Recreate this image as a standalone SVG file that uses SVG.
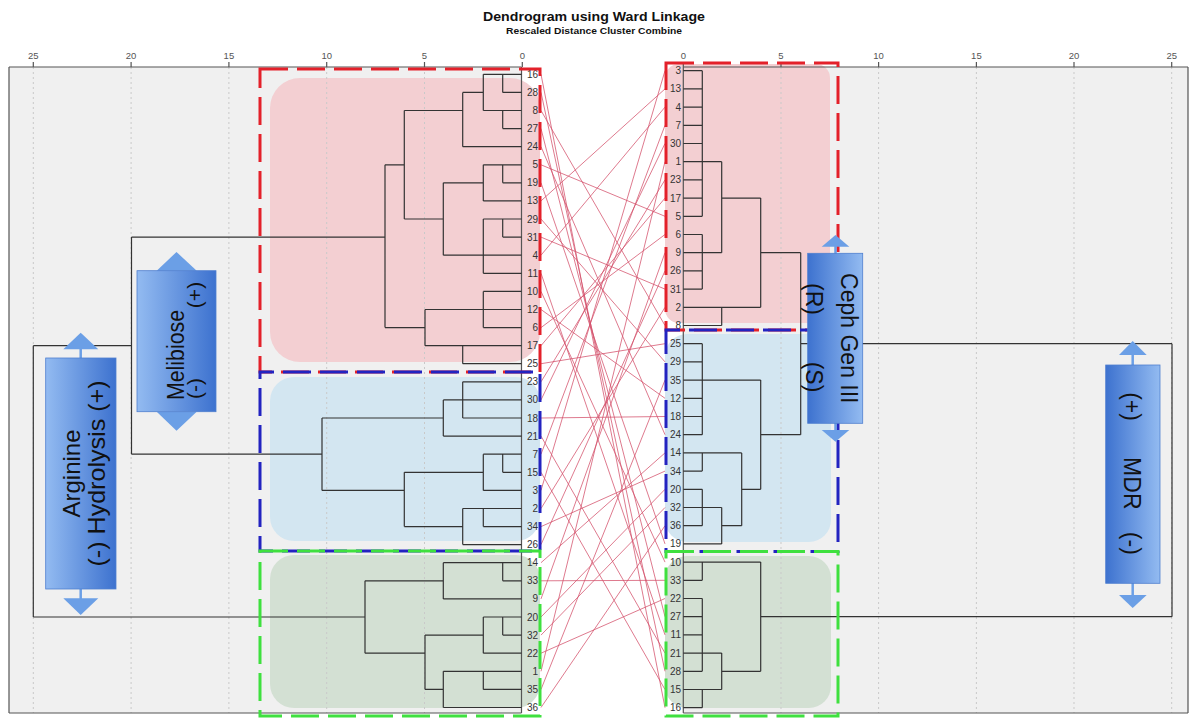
<svg xmlns="http://www.w3.org/2000/svg" width="1190" height="720" viewBox="0 0 1190 720">
<defs>
<linearGradient id="gL" x1="0" y1="0" x2="1" y2="0"><stop offset="0" stop-color="#93bbf1"/><stop offset="1" stop-color="#3d72cf"/></linearGradient>
<linearGradient id="gR" x1="0" y1="0" x2="1" y2="0"><stop offset="0" stop-color="#3d72cf"/><stop offset="1" stop-color="#93bbf1"/></linearGradient>
<style>
.plot{fill:#f0f0f0}
.grid{stroke:#c9c9c9;stroke-width:1;stroke-dasharray:2 3;fill:none}
.ax{stroke:#555;stroke-width:1.2;fill:none}
.tick{font-family:"Liberation Sans",Arial,sans-serif;font-size:9.5px;fill:#555;text-anchor:middle}
.den{stroke:#333;stroke-width:1.2;fill:none}
.cross{stroke:#d4506a;stroke-width:0.9;stroke-opacity:0.85;fill:none}
.lab{font-family:"Liberation Sans",Arial,sans-serif;font-size:10px;fill:#333;text-anchor:end}
.dash{fill:none;stroke-width:3;stroke-dasharray:28 9}
.box{stroke:#4f7fcf;stroke-width:0.8}
.arr{fill:#6b9fe6}
.stem{stroke:#6b9fe6;stroke-width:2.5}
.bt{font-family:"Liberation Sans",Arial,sans-serif;fill:#111;text-anchor:middle}
.title{font-family:"Liberation Sans",Arial,sans-serif;font-weight:bold;fill:#111;text-anchor:middle}
</style>
</defs>
<rect width="1190" height="720" fill="#ffffff"/>
<g id="title">
<text class="title" x="594" y="21" font-size="13.5" textLength="222" lengthAdjust="spacingAndGlyphs">Dendrogram using Ward Linkage</text>
<text class="title" x="594" y="34" font-size="9.5" textLength="176" lengthAdjust="spacingAndGlyphs">Rescaled Distance Cluster Combine</text>
</g>
<g id="plot-areas">
<rect class="plot" x="9" y="67" width="512.5" height="646"/>
<rect class="plot" x="683.3" y="67" width="504.7" height="646"/>
</g>
<g id="cluster-fills">
<rect x="270" y="78" width="270" height="284" rx="30" fill="#f3cfd2"/>
<rect x="270" y="377" width="270" height="164" rx="24" fill="#d3e6f1"/>
<rect x="270" y="555" width="270" height="153" rx="24" fill="#d3e0d3"/>
<rect x="665" y="64" width="165" height="259" rx="14" fill="#f3cfd2"/>
<rect x="665" y="334" width="166" height="208" rx="22" fill="#d3e6f1"/>
<rect x="665" y="556" width="166" height="152" rx="22" fill="#d3e0d3"/>
</g>
<g id="grid">
<path class="grid" d="M33.3 67V713M131.1 67V713M228.9 67V713M326.7 67V713M424.5 67V713M781 67V713M878.6 67V713M976.4 67V713M1074 67V713M1171.7 67V713"/>
</g>
<g id="axes">
<path class="ax" d="M9 67H521.5M9 67V713M9 713H521.5M521.5 67V713M683.3 67H1188M1188 67V713M683.3 713H1188M683.3 67V713"/>
<path class="ax" d="M33.3 62V67M131.1 62V67M228.9 62V67M326.7 62V67M424.5 62V67M522.3 62V67M683.3 62V67M781 62V67M878.6 62V67M976.4 62V67M1074 62V67M1171.7 62V67"/>
<text class="tick" x="33.3" y="59">25</text>
<text class="tick" x="131.1" y="59">20</text>
<text class="tick" x="228.9" y="59">15</text>
<text class="tick" x="326.7" y="59">10</text>
<text class="tick" x="424.5" y="59">5</text>
<text class="tick" x="522.3" y="59">0</text>
<text class="tick" x="683.3" y="59">0</text>
<text class="tick" x="781" y="59">5</text>
<text class="tick" x="878.6" y="59">10</text>
<text class="tick" x="976.4" y="59">15</text>
<text class="tick" x="1074" y="59">20</text>
<text class="tick" x="1171.7" y="59">25</text>
</g>
<g id="connectors">
<g id="tanglegram-links">
<path class="cross" d="M541 74.3L665 707.7M541 92.4L665 671.3M541 110.5L665 325.5M541 128.6L665 616.7M541 146.7L665 434.7M541 164.8L665 216.3M541 182.8L665 543.9M541 200.9L665 88.9M541 219.0L665 361.9M541 237.1L665 289.1M541 255.2L665 107.1M541 273.3L665 634.9M541 291.4L665 562.1M541 309.5L665 398.3M541 327.6L665 234.5M541 345.7L665 198.1M541 363.7L665 343.7M541 381.8L665 179.9M541 399.9L665 143.5M541 418.0L665 416.5M541 436.1L665 653.1M541 454.2L665 125.3M541 472.3L665 689.5M541 490.4L665 70.7M541 508.5L665 307.3M541 526.6L665 471.1M541 544.6L665 270.9M541 562.7L665 452.9M541 580.8L665 580.3M541 598.9L665 252.7M541 617.0L665 489.3M541 635.1L665 507.5M541 653.2L665 598.5M541 671.3L665 161.7M541 689.4L665 380.1M541 707.5L665 525.7"/>
</g>
<g id="left-dendrogram">
<path class="den" d="M483.3 74.3H521.5M502.7 74.3V92.4M502.7 92.4H521.5M462.7 92.4H483.3M483.3 74.3V110.5M483.3 110.5H521.5M502.7 110.5V128.6M502.7 128.6H521.5M462.7 92.4V146.7M462.7 146.7H521.5M404.3 110.5H462.7M404.3 110.5V219.0M483.3 164.8H521.5M502.7 164.8V182.8M502.7 182.8H521.5M483.3 164.8V200.9M483.3 200.9H521.5M443.3 182.8H483.3M443.3 182.8V255.2M483.3 219.0H521.5M502.7 219.0V237.1M502.7 237.1H521.5M483.3 219.0V273.3M443.3 255.2H521.5M483.3 273.3H521.5M404.3 219.0H443.3M385 164.8H404.3M385 164.8V327.6M483.3 291.4H521.5M483.3 291.4V327.6M425 309.5H521.5M483.3 327.6H521.5M385 327.6H425M425 309.5V345.7M425 345.7H521.5M462.7 345.7V363.7M462.7 363.7H521.5M131.5 237.1H385"/>
<path class="den" d="M462.7 381.8H521.5M462.7 381.8V418.0M443.3 399.9H521.5M443.3 399.9V436.1M462.7 418.0H521.5M322 418.0H443.3M443.3 436.1H521.5M483.3 454.2H521.5M502.7 454.2V472.3M502.7 472.3H521.5M404.3 472.3H483.3M483.3 454.2V490.4M483.3 490.4H521.5M322 490.4H404.3M404.3 472.3V526.6M462.7 508.5H521.5M483.3 508.5V526.6M483.3 526.6H521.5M404.3 526.6H462.7M462.7 508.5V544.6M462.7 544.6H521.5M322 418.0V490.4M131.5 454.2H322M131.5 237.1V454.2"/>
<path class="den" d="M443.3 562.7H521.5M502.7 562.7V580.8M502.7 580.8H521.5M365 580.8H443.3M443.3 562.7V598.9M443.3 598.9H521.5M483.3 617.0H521.5M502.7 617.0V635.1M502.7 635.1H521.5M425 635.1H483.3M483.3 617.0V653.2M483.3 653.2H521.5M365 653.2H425M425 635.1V689.4M443.3 671.3H521.5M483.3 671.3V689.4M483.3 689.4H521.5M425 689.4H443.3M443.3 671.3V707.5M443.3 707.5H521.5M365 580.8V653.2"/>
<path class="den" d="M33.3 345.7H131.5M33.3 345.7V617.0M33.3 617.0H365"/>
</g>
<g id="right-dendrogram">
<path class="den" d="M683.3 70.7H702.3M683.3 88.9H702.3M683.3 107.1H702.3M683.3 125.3H702.3M683.3 143.5H702.3M683.3 161.7H702.3M683.3 179.9H702.3M683.3 198.1H702.3M683.3 216.3H702.3M702.3 70.7V216.3M702.3 161.7H721.7M721.7 161.7V252.7M683.3 234.5H702.3M683.3 252.7H702.3M683.3 270.9H702.3M683.3 289.1H702.3M702.3 234.5V289.1M702.3 252.7H721.7M721.7 198.1H760.7M760.7 198.1V307.3M683.3 307.3H760.7M721.7 307.3V325.5M683.3 325.5H721.7M760.7 252.7H800.7M800.7 252.7V434.7M800.7 343.7H1172"/>
<path class="den" d="M683.3 343.7H702.3M683.3 361.9H702.3M683.3 380.1H702.3M683.3 398.3H702.3M683.3 416.5H702.3M683.3 434.7H702.3M702.3 343.7V434.7M702.3 380.1H760.7M760.7 380.1V489.3M683.3 452.9H741.7M702.3 452.9V471.1M683.3 471.1H702.3M683.3 489.3H702.3M683.3 507.5H702.3M683.3 525.7H702.3M702.3 489.3V525.7M702.3 507.5H721.7M721.7 507.5V543.9M683.3 543.9H721.7M741.7 452.9V525.7M721.7 525.7H741.7M741.7 489.3H760.7M760.7 434.7H800.7"/>
<path class="den" d="M683.3 562.1H760.7M702.3 562.1V580.3M683.3 580.3H702.3M683.3 598.5H702.3M683.3 616.7H702.3M683.3 634.9H702.3M683.3 653.1H702.3M683.3 671.3H702.3M702.3 598.5V671.3M702.3 653.1H721.7M721.7 653.1V689.5M683.3 689.5H721.7M702.3 689.5V707.7M683.3 707.7H702.3M721.7 671.3H760.7M760.7 562.1V671.3M760.7 616.7H1172M1172 343.7V616.7"/>
</g>
</g>
<g id="left-leaves">
<text class="lab" x="538" y="77.8">16</text>
<text class="lab" x="538" y="95.9">28</text>
<text class="lab" x="538" y="114.0">8</text>
<text class="lab" x="538" y="132.1">27</text>
<text class="lab" x="538" y="150.2">24</text>
<text class="lab" x="538" y="168.3">5</text>
<text class="lab" x="538" y="186.3">19</text>
<text class="lab" x="538" y="204.4">13</text>
<text class="lab" x="538" y="222.5">29</text>
<text class="lab" x="538" y="240.6">31</text>
<text class="lab" x="538" y="258.7">4</text>
<text class="lab" x="538" y="276.8">11</text>
<text class="lab" x="538" y="294.9">10</text>
<text class="lab" x="538" y="313.0">12</text>
<text class="lab" x="538" y="331.1">6</text>
<text class="lab" x="538" y="349.2">17</text>
<text class="lab" x="538" y="367.2">25</text>
<text class="lab" x="538" y="385.3">23</text>
<text class="lab" x="538" y="403.4">30</text>
<text class="lab" x="538" y="421.5">18</text>
<text class="lab" x="538" y="439.6">21</text>
<text class="lab" x="538" y="457.7">7</text>
<text class="lab" x="538" y="475.8">15</text>
<text class="lab" x="538" y="493.9">3</text>
<text class="lab" x="538" y="512.0">2</text>
<text class="lab" x="538" y="530.1">34</text>
<text class="lab" x="538" y="548.1">26</text>
<text class="lab" x="538" y="566.2">14</text>
<text class="lab" x="538" y="584.3">33</text>
<text class="lab" x="538" y="602.4">9</text>
<text class="lab" x="538" y="620.5">20</text>
<text class="lab" x="538" y="638.6">32</text>
<text class="lab" x="538" y="656.7">22</text>
<text class="lab" x="538" y="674.8">1</text>
<text class="lab" x="538" y="692.9">35</text>
<text class="lab" x="538" y="711.0">36</text>
</g>
<g id="right-leaves">
<text class="lab" x="681" y="74.2">3</text>
<text class="lab" x="681" y="92.4">13</text>
<text class="lab" x="681" y="110.6">4</text>
<text class="lab" x="681" y="128.8">7</text>
<text class="lab" x="681" y="147.0">30</text>
<text class="lab" x="681" y="165.2">1</text>
<text class="lab" x="681" y="183.4">23</text>
<text class="lab" x="681" y="201.6">17</text>
<text class="lab" x="681" y="219.8">5</text>
<text class="lab" x="681" y="238.0">6</text>
<text class="lab" x="681" y="256.2">9</text>
<text class="lab" x="681" y="274.4">26</text>
<text class="lab" x="681" y="292.6">31</text>
<text class="lab" x="681" y="310.8">2</text>
<text class="lab" x="681" y="329.0">8</text>
<text class="lab" x="681" y="347.2">25</text>
<text class="lab" x="681" y="365.4">29</text>
<text class="lab" x="681" y="383.6">35</text>
<text class="lab" x="681" y="401.8">12</text>
<text class="lab" x="681" y="420.0">18</text>
<text class="lab" x="681" y="438.2">24</text>
<text class="lab" x="681" y="456.4">14</text>
<text class="lab" x="681" y="474.6">34</text>
<text class="lab" x="681" y="492.8">20</text>
<text class="lab" x="681" y="511.0">32</text>
<text class="lab" x="681" y="529.2">36</text>
<text class="lab" x="681" y="547.4">19</text>
<text class="lab" x="681" y="565.6">10</text>
<text class="lab" x="681" y="583.8">33</text>
<text class="lab" x="681" y="602.0">22</text>
<text class="lab" x="681" y="620.2">27</text>
<text class="lab" x="681" y="638.4">11</text>
<text class="lab" x="681" y="656.6">21</text>
<text class="lab" x="681" y="674.8">28</text>
<text class="lab" x="681" y="693.0">15</text>
<text class="lab" x="681" y="711.2">16</text>
</g>
<g id="cluster-boxes">
<rect id="left-red" class="dash" x="260" y="69" width="280" height="303" stroke="#e3212a"/>
<rect id="left-blue" class="dash" x="260" y="372" width="280" height="179" stroke="#2323c0" stroke-dashoffset="14"/>
<rect id="left-green" class="dash" x="260" y="551" width="280" height="165" stroke="#3fe03f"/>
<rect id="right-red" class="dash" x="666" y="63" width="172" height="267" stroke="#e3212a"/>
<rect id="right-blue" class="dash" x="666" y="330" width="172" height="221.5" stroke="#2323c0" stroke-dashoffset="14"/>
<rect id="right-green" class="dash" x="666" y="551.5" width="172" height="164.5" stroke="#3fe03f"/>
</g>
<g id="melibiose">
<polygon class="arr" points="156.7,270.7 196.7,270.7 176.5,252"/>
<polygon class="arr" points="156.7,411.7 196.7,411.7 176.5,430.7"/>
<rect class="box" x="137" y="270.7" width="79" height="141" fill="url(#gL)"/>
<text class="bt" font-size="23" textLength="90" lengthAdjust="spacingAndGlyphs" transform="translate(184,355) rotate(-90)">Melibiose</text>
<text class="bt" font-size="21" transform="translate(202,295) rotate(-90)">(+)</text>
<text class="bt" font-size="21" transform="translate(202,388.5) rotate(-90)">(-)</text>
</g>
<g id="arginine">
<line class="stem" x1="80.7" y1="348" x2="80.7" y2="358"/>
<line class="stem" x1="80.7" y1="589" x2="80.7" y2="599"/>
<polygon class="arr" points="63.3,349.3 98.3,349.3 80.7,332.7"/>
<polygon class="arr" points="63.3,598.3 98.3,598.3 80.7,615"/>
<rect class="box" x="45.7" y="358" width="70.3" height="231" fill="url(#gL)"/>
<text class="bt" font-size="24" transform="translate(80,473.5) rotate(-90)">Arginine</text>
<text class="bt" font-size="24" textLength="186" lengthAdjust="spacingAndGlyphs" transform="translate(105,473.5) rotate(-90)">(-) Hydrolysis (+)</text>
</g>
<g id="ceph-gen-iii">
<line class="stem" x1="835.5" y1="245" x2="835.5" y2="254"/>
<line class="stem" x1="835.5" y1="423" x2="835.5" y2="431"/>
<polygon class="arr" points="821.7,246.7 849.3,246.7 835.5,235"/>
<polygon class="arr" points="821.7,430 849.3,430 835.5,441.7"/>
<rect class="box" x="807.7" y="253.3" width="55" height="170" fill="url(#gR)"/>
<text class="bt" font-size="23" transform="translate(840.5,338.3) rotate(90)">Ceph Gen III</text>
<text class="bt" font-size="23" transform="translate(806,299) rotate(90)">(R)</text>
<text class="bt" font-size="23" transform="translate(806,377) rotate(90)">(S)</text>
</g>
<g id="mdr">
<line class="stem" x1="1132.7" y1="354" x2="1132.7" y2="365"/>
<line class="stem" x1="1132.7" y1="583" x2="1132.7" y2="596"/>
<polygon class="arr" points="1119,355 1146.7,355 1132.7,341"/>
<polygon class="arr" points="1119,595 1146.7,595 1132.7,608"/>
<rect class="box" x="1105.7" y="365" width="54.3" height="218.3" fill="url(#gR)"/>
<text class="bt" font-size="23" transform="translate(1124,406.5) rotate(90)">(+)</text>
<text class="bt" font-size="23" transform="translate(1124,483.3) rotate(90)">MDR</text>
<text class="bt" font-size="23" transform="translate(1124,543.3) rotate(90)">(-)</text>
</g>
</svg>
